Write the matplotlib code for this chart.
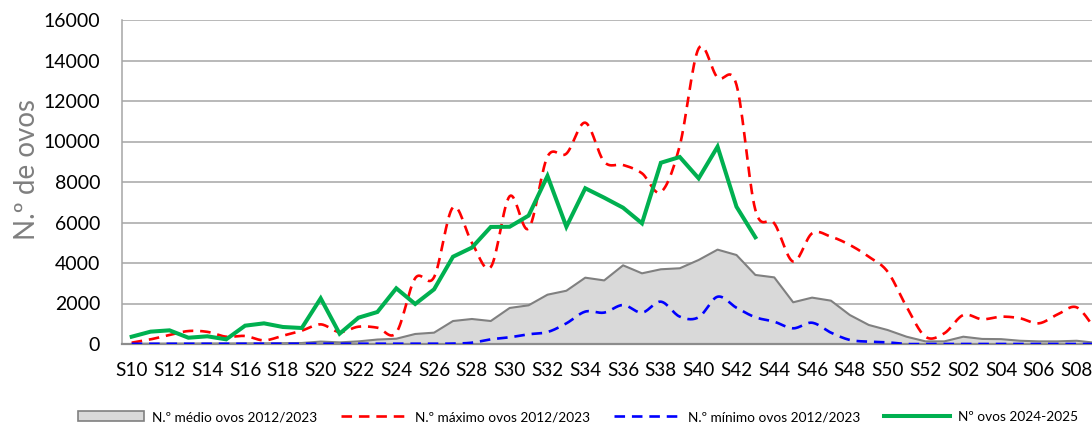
import numpy as np
import matplotlib
matplotlib.use("Agg")
import matplotlib.pyplot as plt
from matplotlib.patches import Patch
from matplotlib.lines import Line2D

plt.rcParams['font.family'] = ['Lato', 'DejaVu Sans']

weeks = ['S%02d' % w for w in range(10, 53)] + ['S%02d' % w for w in range(1, 10)]

media = [10, 15, 20, 20, 25, 25, 30, 35, 40, 50,
         120, 80, 130, 220, 260, 495, 560, 1135, 1235, 1135,
         1780, 1910, 2435, 2630, 3275, 3140, 3885, 3490, 3690, 3740,
         4150, 4660, 4395, 3410, 3290, 2060, 2290, 2140, 1430, 940,
         690, 360, 130, 130, 360, 250, 240, 160, 130, 130, 160, 60]

maximo = [65, 230, 445, 640, 600, 360, 395, 180, 410, 660,
          970, 590, 855, 805, 560, 3250, 3300, 6750, 5000, 3800,
          7300, 5700, 9250, 9400, 10930, 9000, 8840, 8430, 7500, 9800,
          14600, 13150, 12800, 6620, 5960, 4070, 5465, 5300, 4890, 4310,
          3570, 1840, 360, 530, 1430, 1220, 1350, 1270, 1020, 1465, 1810, 700]

minimo = [10, 10, 10, 10, 10, 10, 10, 10, 10, 10,
          10, 10, 10, 10, 10, 15, 15, 20, 65, 230,
          330, 480, 590, 1020, 1600, 1550, 1925, 1550, 2090, 1350,
          1320, 2335, 1790, 1320, 1100, 775, 1050, 560, 200, 115,
          80, 0, 0, 0, 0, 0, 0, 0, 0, 0, 0, 0]

atual = [360, 610, 675, 310, 380, 230, 905, 1020, 840, 790,
         2255, 510, 1300, 1580, 2750, 1975, 2700, 4310, 4760, 5780,
         5790, 6340, 8300, 5790, 7690, 7225, 6730, 5960, 8950, 9235,
         8180, 9745, 6780, 5270]


def smooth(x, y, n=16):
    # curva suavizada tipo Excel (Catmull-Rom em forma Bezier)
    x = np.asarray(x, float)
    y = np.asarray(y, float)
    xs, ys = [], []
    t = np.linspace(0, 1, n, endpoint=False)
    for i in range(len(x) - 1):
        i0 = max(i - 1, 0)
        i3 = min(i + 2, len(x) - 1)
        p1 = np.array([x[i], y[i]])
        p2 = np.array([x[i + 1], y[i + 1]])
        c1 = p1 + (p2 - np.array([x[i0], y[i0]])) / 6
        c2 = p2 - (np.array([x[i3], y[i3]]) - p1) / 6
        b = ((1 - t) ** 3)[:, None] * p1 + (3 * (1 - t) ** 2 * t)[:, None] * c1 \
            + (3 * (1 - t) * t ** 2)[:, None] * c2 + (t ** 3)[:, None] * p2
        xs.extend(b[:, 0])
        ys.extend(b[:, 1])
    xs.append(x[-1])
    ys.append(y[-1])
    return np.array(xs), np.array(ys)


W, H = 1092, 426
fig = plt.figure(figsize=(W / 100, H / 100), dpi=100)
left = 122.25 / W
width = (1105.0 - 122.25) / W
ax = fig.add_axes([left, 1 - 344 / H, width, 324 / H])

x = np.arange(len(weeks))
ax.fill_between(x, media, 0, facecolor='#d9d9d9', edgecolor='none', zorder=2)
ax.plot(x, media, color='#808080', lw=1.5, zorder=3)

sx, sy = smooth(x, maximo)
ax.plot(sx, sy, color='#ff0000', lw=1.9, dashes=(4, 2.6), zorder=4)
sx, sy = smooth(x, minimo)
ax.plot(sx, sy, color='#0000ff', lw=1.9, dashes=(4, 2.6), zorder=4)
ax.plot(x[:len(atual)], atual, color='#00b050', lw=2.9, zorder=5,
        solid_joinstyle='miter')

ax.set_xlim(-0.5, len(weeks) - 0.5)
ax.set_ylim(0, 16000)
ax.set_yticks(range(0, 16001, 2000))
ax.set_xticks(x[::2])
ax.set_xticklabels(weeks[::2])
ax.tick_params(axis='both', length=0, labelsize=14, colors='black')
ax.tick_params(axis='x', pad=13, labelsize=13.6)
ax.tick_params(axis='y', pad=16)
ax.grid(axis='y', color='#a6a6a6', lw=1.1, zorder=1)
ax.set_axisbelow(True)
for s in ['top', 'right']:
    ax.spines[s].set_visible(False)
ax.spines['left'].set_color('#a6a6a6')
ax.spines['left'].set_linewidth(1.1)
ax.spines['bottom'].set_color('#8c8c8c')
ax.spines['bottom'].set_linewidth(1.6)
ax.spines['bottom'].set_zorder(3)

fig.text(27 / W, 1 - 170 / H, 'N.º de ovos', rotation=90, ha='center',
         va='center', fontsize=20, color='#7f7f7f')

handles = [
    Patch(facecolor='#d9d9d9', edgecolor='#808080', lw=1.2),
    Line2D([], [], color='#ff0000', lw=1.9, dashes=(4, 2.6)),
    Line2D([], [], color='#0000ff', lw=1.9, dashes=(4, 2.6)),
    Line2D([], [], color='#00b050', lw=2.9),
]
labels = ['N.º médio ovos 2012/2023', 'N.º máximo ovos 2012/2023',
          'N.º mínimo ovos 2012/2023', 'Nº ovos 2024-2025']
fig.legend(handles, labels, loc='center left', bbox_to_anchor=(78 / W, 1 - 417 / H),
           ncol=4, frameon=False, fontsize=9.8, handlelength=4.85, handleheight=0.7,
           handletextpad=0.58, columnspacing=1.76, borderpad=0, borderaxespad=0)

fig.savefig('out.png', dpi=100)
